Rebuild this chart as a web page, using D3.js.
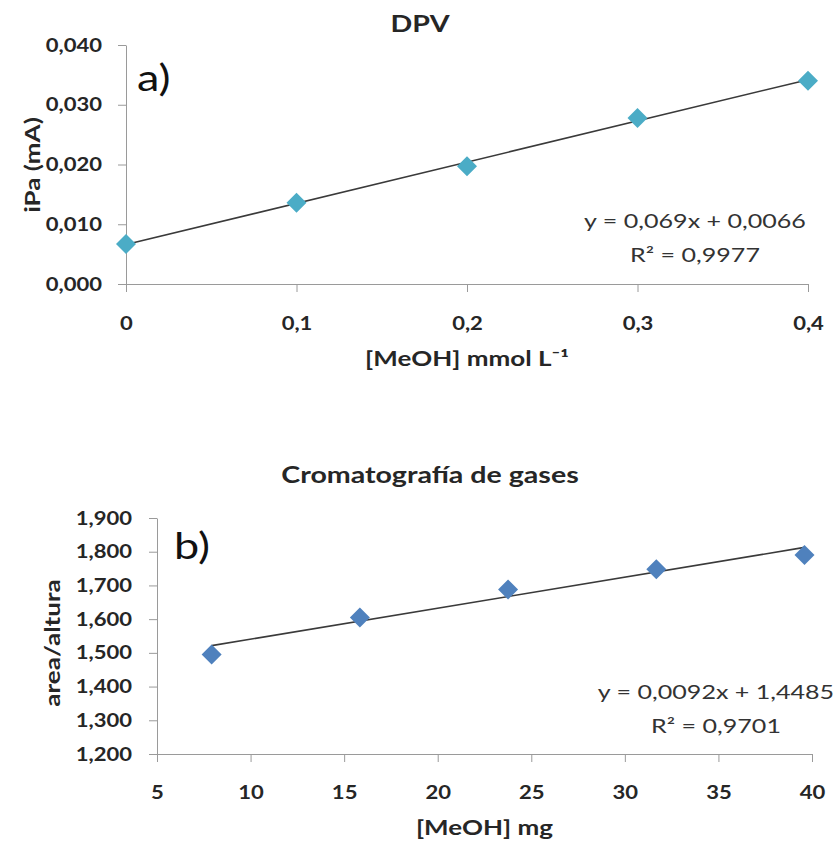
<!DOCTYPE html>
<html>
<head>
<meta charset="utf-8">
<script src="https://cdn.jsdelivr.net/npm/d3@7"></script>
<style>
  body { margin: 0; background: #fff; }
  svg, svg text { font-family: Lato, "Open Sans", sans-serif; }
  .axis path, .axis line { stroke: #9a9a9a; }
  .axis text { font-family: Lato, "Open Sans", sans-serif; font-weight: bold; fill: #262626; font-size: 19px; }
</style>
</head>
<body>
<svg></svg>
<script>
// chart a) DPV
var dpvX = [0, 0.1, 0.2, 0.3, 0.4]
var dpvY = [0.0067, 0.0136, 0.0197, 0.0278, 0.0340]
var dpvYTicks = [0, 0.01, 0.02, 0.03, 0.04]
var dpvXTicks = [0, 0.1, 0.2, 0.3, 0.4]
var dpvFit = [0.069, 0.0066]

// chart b) cromatografia
var gcX = [7.92, 15.84, 23.76, 31.68, 39.6]
var gcY = [1.495, 1.605, 1.688, 1.748, 1.790]
var gcYTicks = [1.2, 1.3, 1.4, 1.5, 1.6, 1.7, 1.8, 1.9]
var gcXTicks = [5, 10, 15, 20, 25, 30, 35, 40]
var gcFit = [0.0092, 1.4485]

function main(){
    var width = 838
    var height = 844
    var svg = d3.select('svg').attr("width", width).attr("height", height)

    var loc = d3.formatLocale({decimal: ",", thousands: ".", grouping: [3], currency: ["", ""]})
    var tickStretch = 1.16

    // text with a horizontal stretch (the original font is wider than Lato)
    function label(g, str, x, y, size, sx, opts){
        opts = opts || {}
        return g.append("text")
            .attr("transform", "translate(" + x + "," + y + ")" + (opts.rot ? " rotate(" + opts.rot + ")" : "") + " scale(" + sx + ",1)")
            .attr("text-anchor", opts.anchor || "middle")
            .attr("font-size", size)
            .attr("font-weight", opts.bold ? "bold" : "normal")
            .attr("fill", opts.fill || "#262626")
            .text(str)
    }

    function drawPanel(o){
        var x = d3.scaleLinear().domain(o.xDomain).range(o.xRange)
        var y = d3.scaleLinear().domain(o.yDomain).range(o.yRange)
        var g = svg.append("g")

        var gx = g.append("g")
            .attr("class", "axis")
            .attr("transform", "translate(0," + o.yRange[0] + ")")
            .call(d3.axisBottom(x).tickValues(o.xTicks).tickSize(8).tickSizeOuter(0).tickPadding(0).tickFormat(o.xFmt))
        gx.selectAll("text")
            .attr("y", o.xTickBase).attr("dy", null)
            .attr("transform", "scale(" + tickStretch + ",1)")

        var gy = g.append("g")
            .attr("class", "axis")
            .attr("transform", "translate(" + o.xRange[0] + ",0)")
            .call(d3.axisLeft(y).tickValues(o.yTicks).tickSize(8).tickSizeOuter(0).tickPadding(0).tickFormat(o.yFmt))
        gy.selectAll("text")
            .attr("x", -o.yTickGap / tickStretch)
            .attr("transform", "scale(" + tickStretch + ",1)")

        // trend line
        var x0 = d3.min(o.xs), x1 = d3.max(o.xs)
        g.append("line")
            .attr("x1", x(x0)).attr("y1", y(o.fit[0]*x0 + o.fit[1]))
            .attr("x2", x(x1)).attr("y2", y(o.fit[0]*x1 + o.fit[1]))
            .attr("stroke", "#3a3a3a").attr("stroke-width", 1.6)

        var sym = d3.symbol(d3.symbolSquare, o.markSize)
        g.selectAll(".pt")
            .data(o.xs.map((d,i) => [d, o.ys[i]]))
            .join("path")
            .attr("class", "pt")
            .attr("d", sym)
            .attr("transform", d => "translate(" + x(d[0]) + "," + y(d[1]) + ") rotate(45)")
            .attr("fill", o.color)

        label(g, o.title, o.titleX, o.titleY, 22, 1.3, {bold: true})
        label(g, o.tag, o.tagX, o.tagY, 36, 1.25, {anchor: "start", fill: "#111"})
        label(g, o.yLabel, o.yLabX, o.yLabY, 20, 1.3, {bold: true, rot: -90})
        label(g, o.xLabel, (o.xRange[0] + o.xRange[1]) / 2, o.xLabY, 20, 1.3, {bold: true})
        label(g, "y = " + o.fitText[0] + "x + " + o.fitText[1], o.eqX, o.eqY, 19, 1.32, {fill: "#333"})
        label(g, "R² = " + o.r2, o.eqX, o.eqY + 34, 19, 1.32, {fill: "#333"})
    }

    var fmt3 = loc.format(".3f")
    var fmtG = loc.format("~g")

    drawPanel({
        xs: dpvX, ys: dpvY, fit: dpvFit,
        xDomain: [0, 0.4], xRange: [126, 808],
        yDomain: [0, 0.04], yRange: [284, 45],
        xTicks: dpvXTicks, yTicks: dpvYTicks,
        xFmt: fmtG, yFmt: fmt3, xTickBase: 46, yTickGap: 24,
        color: "#4bacc6", markSize: 200,
        title: "DPV", titleX: 420, titleY: 32,
        tag: "a)", tagX: 137, tagY: 91,
        yLabel: "iPa (mA)", yLabX: 40, yLabY: 165,
        xLabel: "[MeOH] mmol L⁻¹", xLabY: 366,
        fitText: ["0,069", "0,0066"], r2: "0,9977", eqX: 695, eqY: 228
    })

    drawPanel({
        xs: gcX, ys: gcY, fit: gcFit,
        xDomain: [5, 40], xRange: [157, 812],
        yDomain: [1.2, 1.9], yRange: [754, 518],
        xTicks: gcXTicks, yTicks: gcYTicks,
        xFmt: fmtG, yFmt: fmt3, xTickBase: 45, yTickGap: 25,
        color: "#4f81bd", markSize: 200,
        title: "Cromatografía de gases", titleX: 430, titleY: 483,
        tag: "b)", tagX: 174, tagY: 559,
        yLabel: "area/altura", yLabX: 60, yLabY: 643,
        xLabel: "[MeOH] mg", xLabY: 835,
        fitText: ["0,0092", "1,4485"], r2: "0,9701", eqX: 716, eqY: 699
    })
}
main()
</script>
</body>
</html>
